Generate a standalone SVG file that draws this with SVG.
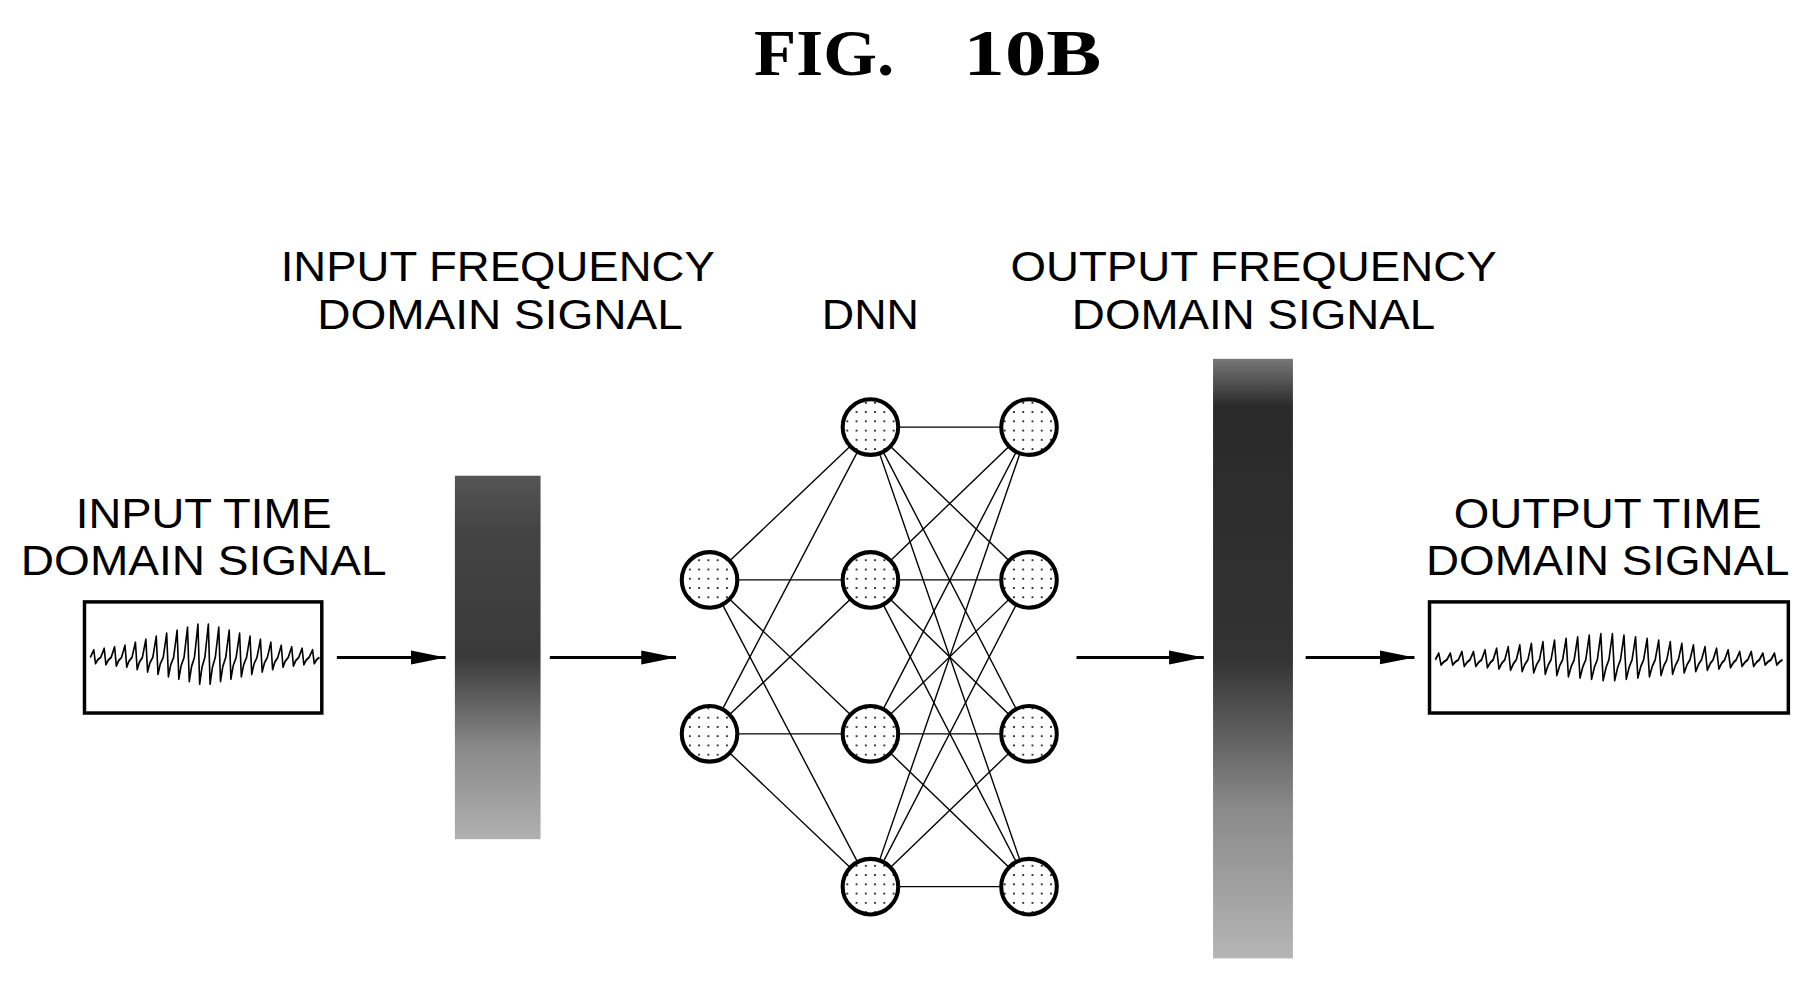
<svg xmlns="http://www.w3.org/2000/svg" width="1815" height="982" viewBox="0 0 1815 982">
<style>
.t{font-family:"Liberation Sans",Arial,sans-serif;font-size:37px;fill:#000;text-anchor:middle}
.n{fill:url(#dots);stroke:#000;stroke-width:3.5}
.c line{stroke:#000;stroke-width:1.2}
.a{stroke:#000;stroke-width:2.5;fill:none}
.box{fill:#fff;stroke:#000;stroke-width:3}
.w{fill:none;stroke:#000;stroke-width:1.4;stroke-linejoin:round}
.ti{font-family:"Liberation Serif","Times New Roman",serif;font-weight:bold;font-size:56px;text-anchor:middle}
</style>
<defs>
<pattern id="dots" width="8" height="8" patternUnits="userSpaceOnUse">
<rect width="8" height="8" fill="#fff"/><circle cx="4" cy="4" r="0.9" fill="#000"/>
</pattern>
<marker id="ar" markerWidth="32" markerHeight="16" refX="30" refY="8" orient="auto" markerUnits="userSpaceOnUse">
<path d="M0,2 L30,8 L0,14 Z" fill="#000"/>
</marker>
<linearGradient id="g1" x1="0" y1="0" x2="0" y2="1">
<stop offset="0" stop-color="#555"/><stop offset="0.15" stop-color="#444"/><stop offset="0.5" stop-color="#3a3a3a"/><stop offset="0.75" stop-color="#8a8a8a"/><stop offset="1" stop-color="#b0b0b0"/>
</linearGradient>
<linearGradient id="g2" x1="0" y1="0" x2="0" y2="1">
<stop offset="0" stop-color="#777"/><stop offset="0.08" stop-color="#2a2a2a"/><stop offset="0.5" stop-color="#333"/><stop offset="0.75" stop-color="#8a8a8a"/><stop offset="1" stop-color="#b5b5b5"/>
</linearGradient>
</defs>
<rect width="1815" height="982" fill="#fff"/>
<g transform="scale(1.1575)">
<text class="ti" x="712" y="65" textLength="121" lengthAdjust="spacingAndGlyphs">FIG.</text><text class="ti" x="892" y="65" textLength="119" lengthAdjust="spacingAndGlyphs">10B</text>

<g id="lbl-infreq"><text class="t" x="430" y="243" textLength="375" lengthAdjust="spacingAndGlyphs">INPUT FREQUENCY</text><text class="t" x="432" y="284" textLength="316" lengthAdjust="spacingAndGlyphs">DOMAIN SIGNAL</text></g>
<g id="lbl-dnn"><text class="t" x="752" y="284" textLength="84" lengthAdjust="spacingAndGlyphs">DNN</text></g>
<g id="lbl-outfreq"><text class="t" x="1083" y="243" textLength="420" lengthAdjust="spacingAndGlyphs">OUTPUT FREQUENCY</text><text class="t" x="1083" y="284" textLength="314" lengthAdjust="spacingAndGlyphs">DOMAIN SIGNAL</text></g>

<g id="in-time">
<text class="t" x="176" y="456" textLength="221" lengthAdjust="spacingAndGlyphs">INPUT TIME</text>
<text class="t" x="176" y="497" textLength="316" lengthAdjust="spacingAndGlyphs">DOMAIN SIGNAL</text>
<rect class="box" x="73" y="520" width="205" height="96"/>
<path class="w" transform="translate(0,568) scale(1,1.3) translate(0,-568)" d="M78,568 l3,-5 l1.5,9 l2,-2.5 l2.5,-1.5 l3,-6 l1.5,10.8 l2,-3 l2.5,-1.8 l3,-7 l1.5,12.6 l2,-3.5 l2.5,-2.1 l3,-8 l1.5,14.4 l2,-4 l2.5,-2.4 l3,-10 l1.5,18 l2,-5 l2.5,-3 l3,-12 l1.5,21.6 l2,-6 l2.5,-3.6 l3,-14 l1.5,25.2 l2,-7 l2.5,-4.2 l3,-16 l1.5,28.8 l2,-8 l2.5,-4.8 l3,-18 l1.5,32.4 l2,-9 l2.5,-5.4 l3,-20 l1.5,36 l2,-10 l2.5,-6 l3,-22 l1.5,39.6 l2,-11 l2.5,-6.6 l3,-22 l1.5,39.6 l2,-11 l2.5,-6.6 l3,-20 l1.5,36 l2,-10 l2.5,-6 l3,-18 l1.5,32.4 l2,-9 l2.5,-5.4 l3,-16 l1.5,28.8 l2,-8 l2.5,-4.8 l3,-14 l1.5,25.2 l2,-7 l2.5,-4.2 l3,-12 l1.5,21.6 l2,-6 l2.5,-3.6 l3,-10 l1.5,18 l2,-5 l2.5,-3 l3,-8 l1.5,14.4 l2,-4 l2.5,-2.4 l3,-7 l1.5,12.6 l2,-3.5 l2.5,-2.1 l3,-6 l1.5,10.8 l2,-3 l2.5,-1.8 l3,-5 l1.5,9 l2,-2.5 l2.5,-1.5"/>
</g>

<g id="in-freq"><rect x="393" y="411" width="74" height="314" fill="url(#g1)"/></g>
<g id="out-freq"><rect x="1048" y="310" width="69" height="518" fill="url(#g2)"/></g>

<g id="out-time">
<text class="t" x="1389" y="456" textLength="266" lengthAdjust="spacingAndGlyphs">OUTPUT TIME</text>
<text class="t" x="1389" y="497" textLength="314" lengthAdjust="spacingAndGlyphs">DOMAIN SIGNAL</text>
<rect class="box" x="1235" y="520" width="310" height="96"/>
<path class="w" transform="translate(0,570) scale(1,1.4) translate(0,-570)" d="M1240,570 l3,-4 l2,7.2 l2.5,-2 l2.5,-1.2 l3,-4 l2,7.2 l2.5,-2 l2.5,-1.2 l3,-5 l2,9 l2.5,-2.5 l2.5,-1.5 l3,-5 l2,9 l2.5,-2.5 l2.5,-1.5 l3,-6 l2,10.8 l2.5,-3 l2.5,-1.8 l3,-7 l2,12.6 l2.5,-3.5 l2.5,-2.1 l3,-8 l2,14.4 l2.5,-4 l2.5,-2.4 l3,-9 l2,16.2 l2.5,-4.5 l2.5,-2.7 l3,-10 l2,18 l2.5,-5 l2.5,-3 l3,-11 l2,19.8 l2.5,-5.5 l2.5,-3.3 l3,-12 l2,21.6 l2.5,-6 l2.5,-3.6 l3,-13 l2,23.4 l2.5,-6.5 l2.5,-3.9 l3,-14 l2,25.2 l2.5,-7 l2.5,-4.2 l3,-15 l2,27 l2.5,-7.5 l2.5,-4.5 l3,-16 l2,28.8 l2.5,-8 l2.5,-4.8 l3,-16 l2,28.8 l2.5,-8 l2.5,-4.8 l3,-15 l2,27 l2.5,-7.5 l2.5,-4.5 l3,-14 l2,25.2 l2.5,-7 l2.5,-4.2 l3,-13 l2,23.4 l2.5,-6.5 l2.5,-3.9 l3,-12 l2,21.6 l2.5,-6 l2.5,-3.6 l3,-11 l2,19.8 l2.5,-5.5 l2.5,-3.3 l3,-10 l2,18 l2.5,-5 l2.5,-3 l3,-9 l2,16.2 l2.5,-4.5 l2.5,-2.7 l3,-8 l2,14.4 l2.5,-4 l2.5,-2.4 l3,-7 l2,12.6 l2.5,-3.5 l2.5,-2.1 l3,-6 l2,10.8 l2.5,-3 l2.5,-1.8 l3,-5 l2,9 l2.5,-2.5 l2.5,-1.5 l3,-5 l2,9 l2.5,-2.5 l2.5,-1.5 l3,-4 l2,7.2 l2.5,-2 l2.5,-1.2 l3,-4 l2,7.2 l2.5,-2 l2.5,-1.2"/>
</g>

<g id="connectors">
<line class="a" x1="291" y1="568" x2="385" y2="568" marker-end="url(#ar)"/>
<line class="a" x1="475" y1="568" x2="584" y2="568" marker-end="url(#ar)"/>
<line class="a" x1="930" y1="568" x2="1040" y2="568" marker-end="url(#ar)"/>
<line class="a" x1="1128" y1="568" x2="1222" y2="568" marker-end="url(#ar)"/>
<g class="c">
<line x1="613" y1="501" x2="752" y2="369"/><line x1="613" y1="501" x2="752" y2="501"/><line x1="613" y1="501" x2="752" y2="634"/><line x1="613" y1="501" x2="752" y2="766"/>
<line x1="613" y1="634" x2="752" y2="369"/><line x1="613" y1="634" x2="752" y2="501"/><line x1="613" y1="634" x2="752" y2="634"/><line x1="613" y1="634" x2="752" y2="766"/>
<line x1="752" y1="369" x2="889" y2="369"/><line x1="752" y1="369" x2="889" y2="501"/><line x1="752" y1="369" x2="889" y2="634"/><line x1="752" y1="369" x2="889" y2="766"/>
<line x1="752" y1="501" x2="889" y2="369"/><line x1="752" y1="501" x2="889" y2="501"/><line x1="752" y1="501" x2="889" y2="634"/><line x1="752" y1="501" x2="889" y2="766"/>
<line x1="752" y1="634" x2="889" y2="369"/><line x1="752" y1="634" x2="889" y2="501"/><line x1="752" y1="634" x2="889" y2="634"/><line x1="752" y1="634" x2="889" y2="766"/>
<line x1="752" y1="766" x2="889" y2="369"/><line x1="752" y1="766" x2="889" y2="501"/><line x1="752" y1="766" x2="889" y2="634"/><line x1="752" y1="766" x2="889" y2="766"/>
</g>
</g>

<g id="n-i1"><circle class="n" cx="613" cy="501" r="24"/></g>
<g id="n-i2"><circle class="n" cx="613" cy="634" r="24"/></g>
<g id="n-h1"><circle class="n" cx="752" cy="369" r="24"/></g>
<g id="n-h2"><circle class="n" cx="752" cy="501" r="24"/></g>
<g id="n-h3"><circle class="n" cx="752" cy="634" r="24"/></g>
<g id="n-h4"><circle class="n" cx="752" cy="766" r="24"/></g>
<g id="n-o1"><circle class="n" cx="889" cy="369" r="24"/></g>
<g id="n-o2"><circle class="n" cx="889" cy="501" r="24"/></g>
<g id="n-o3"><circle class="n" cx="889" cy="634" r="24"/></g>
<g id="n-o4"><circle class="n" cx="889" cy="766" r="24"/></g>
</g>
</svg>
